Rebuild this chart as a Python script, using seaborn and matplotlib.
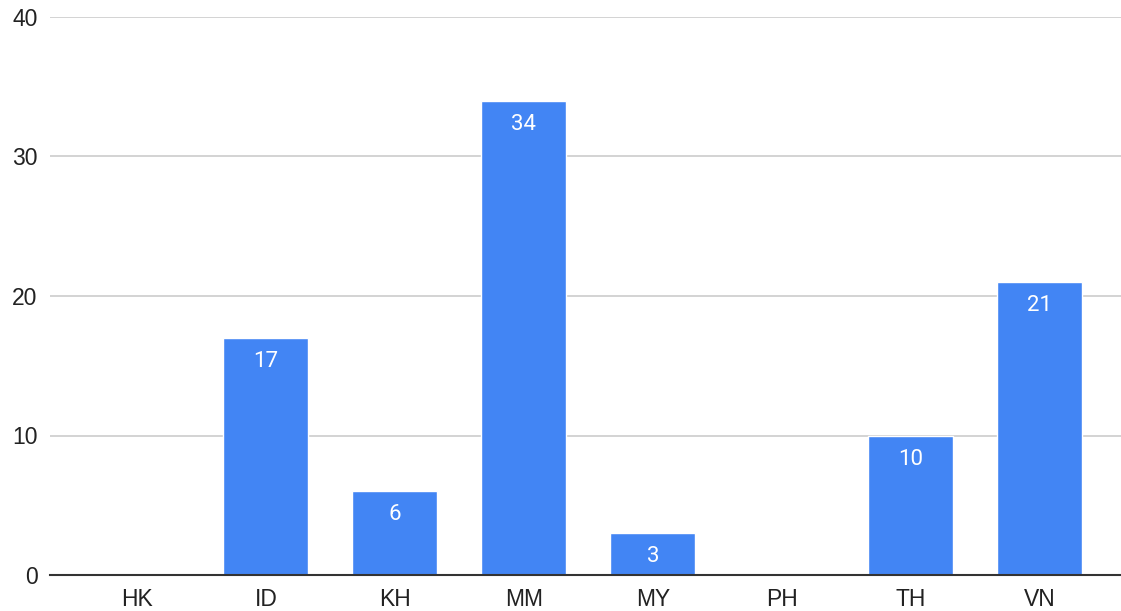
import matplotlib
matplotlib.use("Agg")
import matplotlib.pyplot as plt
import seaborn as sns
import pandas as pd

countries = ["HK", "ID", "KH", "MM", "MY", "PH", "TH", "VN"]
counts = [0, 17, 6, 34, 3, 0, 10, 21]

df = pd.DataFrame({"country": countries, "count": counts})

sns.set_style("white")
plt.rcParams["font.family"] = ["Liberation Sans", "DejaVu Sans"]

fig = plt.figure(figsize=(11.21, 6.11), dpi=100)
ax = fig.add_axes([50 / 1121, 36 / 611, 1071 / 1121, 558 / 611])

sns.barplot(data=df, x="country", y="count", color="#4285F4", saturation=1,
            width=0.66, ax=ax, zorder=3)

# value labels inside the top of each bar
for patch, v in zip(ax.patches, counts):
    if v == 0:
        continue
    ax.annotate(str(v), (patch.get_x() + patch.get_width() / 2, v),
                xytext=(0, -17), textcoords="offset points",
                ha="center", va="center", color="white", fontsize=16,
                family=["Roboto", "DejaVu Sans"])

ax.set_ylim(0, 40)
ax.set_yticks([0, 10, 20, 30, 40])
ax.set_xlim(-0.674, 7.63)
ax.yaxis.grid(True, color="#cccccc", linewidth=1.2, zorder=0)
ax.set_axisbelow(True)
for side in ["top", "right", "left"]:
    ax.spines[side].set_visible(False)
ax.spines["bottom"].set_color("#333333")
ax.spines["bottom"].set_linewidth(1.5)
ax.spines["bottom"].set_zorder(4)
ax.tick_params(axis="both", length=0, labelsize=16.5, colors="#222222")
ax.tick_params(axis="y", pad=9)
ax.tick_params(axis="x", pad=9)
ax.set_xlabel("")
ax.set_ylabel("")

fig.savefig("out.png", dpi=100)
